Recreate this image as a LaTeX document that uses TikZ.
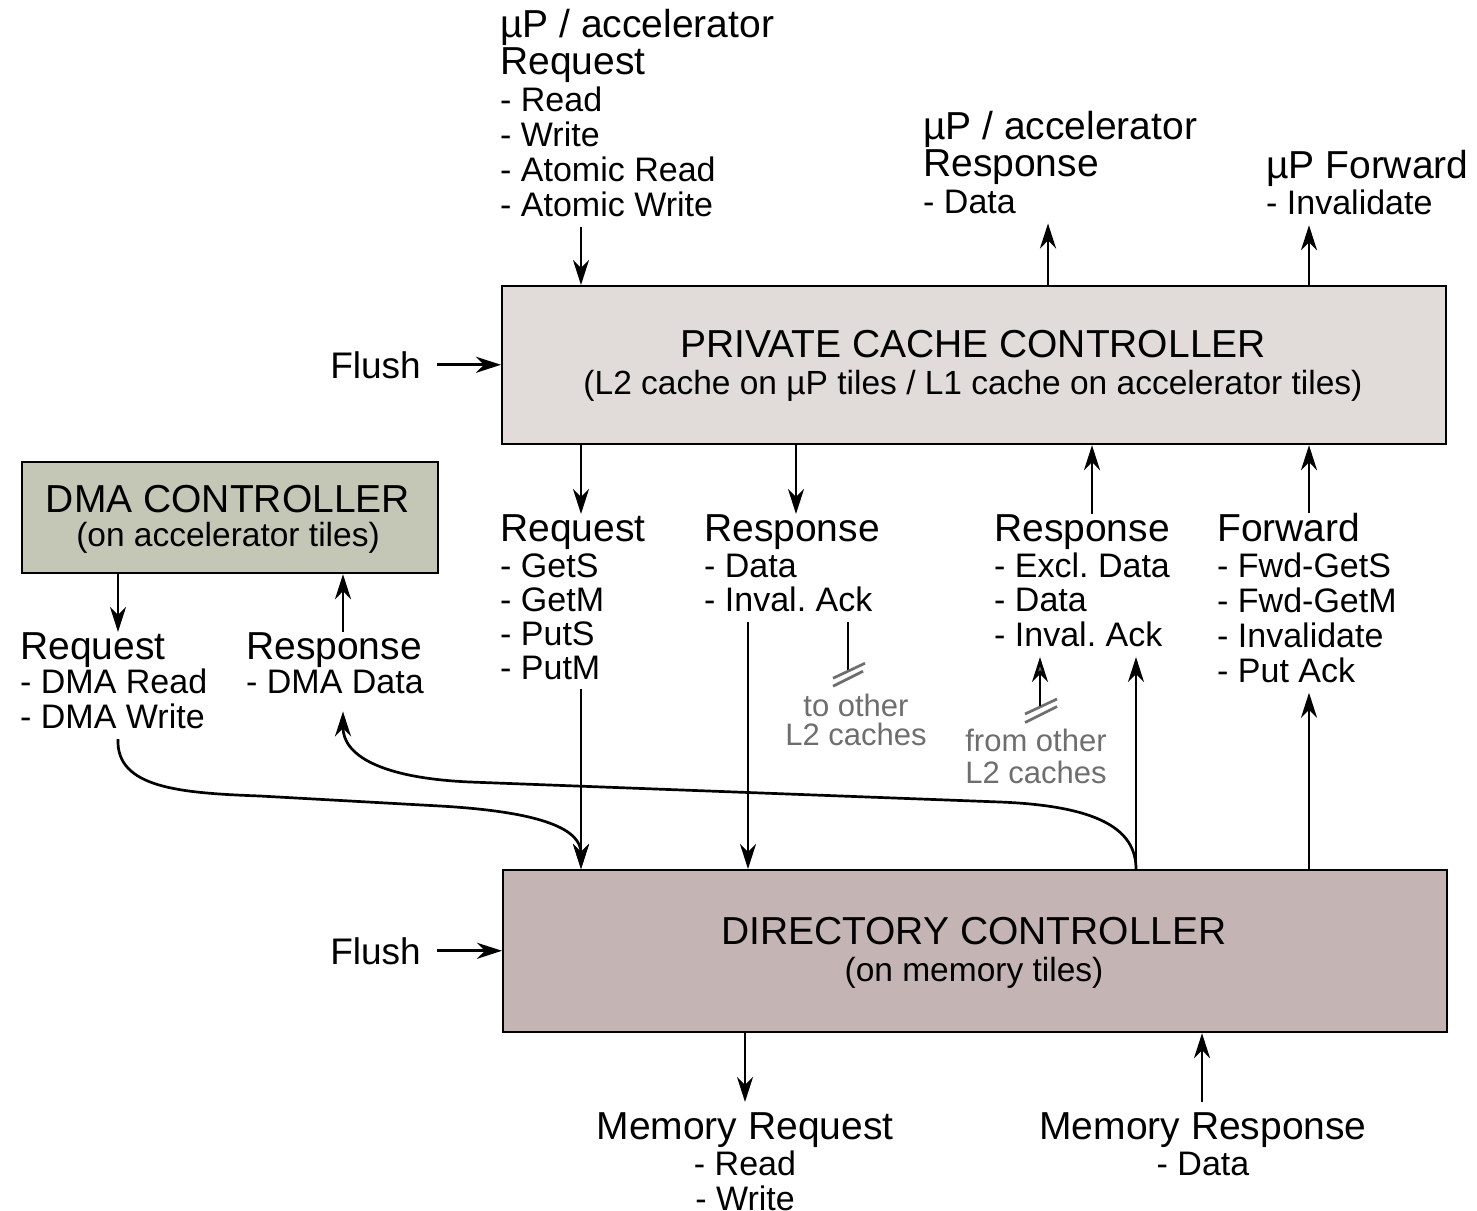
\documentclass[tikz,border=0pt]{standalone}
\usepackage{fontspec}
\setmainfont{Liberation Sans}
\usetikzlibrary{arrows.meta,calc}

\definecolor{privfill}{RGB}{225,220,217}
\definecolor{dmafill}{RGB}{196,199,181}
\definecolor{dirfill}{RGB}{196,180,180}
\definecolor{graytext}{RGB}{110,110,110}

% font sizes (1 unit = 1pt)
\newcommand\bigf{\fontsize{39}{39}\selectfont}
\newcommand\lstf{\fontsize{34}{34}\selectfont}
\newcommand\subf{\fontsize{33.5}{34}\selectfont}
\newcommand\flf{\fontsize{37}{37}\selectfont}
\newcommand\grayf{\fontsize{31}{28}\selectfont}
\newcommand\hd[1]{{\bigf #1}}
% stacked lines whose baseline is the first line
\newcommand\stk[2][l]{\begin{tabular}[t]{@{}#1@{}}#2\end{tabular}}

\tikzset{
  box/.style={draw=black, line width=2.2pt, inner sep=0pt, anchor=north west},
  ttl/.style={inner sep=0pt, anchor=base, font=\bigf},
  sub/.style={inner sep=0pt, anchor=base, font=\subf},
  lbl/.style={inner sep=0pt, anchor=base west, font=\lstf},
  clbl/.style={inner sep=0pt, anchor=base, font=\lstf},
  glbl/.style={inner sep=0pt, anchor=base, font=\grayf, text=graytext},
  arr/.style={line width=2.7pt, -{Stealth[length=25pt,width=16pt,inset=8pt]}},
  garr/.style={line width=2.7pt, -{Stealth[length=25pt,width=16pt,inset=8pt,fill=graytext]}},
  wire/.style={line width=2.7pt},
  hatch/.style={draw=graytext, line width=2.7pt},
}

\begin{document}
\begin{tikzpicture}[x=1pt, y=-1pt]
\useasboundingbox (0,0) rectangle (1477,1210);

% ---- controllers ----
\node[box, fill=privfill, minimum width=944pt, minimum height=158pt] (priv) at (501,285) {};
\node[box, fill=dmafill,  minimum width=416pt, minimum height=111pt] (dma)  at (21,461) {};
\node[box, fill=dirfill,  minimum width=944pt, minimum height=162pt] (dir)  at (502,869) {};

\node[ttl] (privT) at (973,357) {PRIVATE CACHE CONTROLLER};
\node[sub] (privS) at (973,394) {(L2 cache on µP tiles / L1 cache on accelerator tiles)};
\node[ttl] (dmaT) at (228,512) {DMA CONTROLLER};
\node[sub] (dmaS) at (228,546) {(on accelerator tiles)};
\node[ttl] (dirT) at (974,944) {DIRECTORY CONTROLLER};
\node[sub] (dirS) at (974,981) {(on memory tiles)};

% ---- message labels ----
\node[lbl] (lupreq) at (500,37)
  {\stk{\hd{µP / accelerator}\\\hd{Request}\\[3pt]- Read\\- Write\\- Atomic Read\\- Atomic Write}};
\node[lbl] (lupresp) at (923,139)
  {\stk{\hd{µP / accelerator}\\\hd{Response}\\[3pt]- Data}};
\node[lbl] (lupfwd) at (1266,178)
  {\stk{\hd{µP Forward}\\[2pt]- Invalidate}};

\node[lbl] (lreq) at (500,541)
  {\stk{\hd{Request}\\[2pt]- GetS\\- GetM\\- PutS\\- PutM}};
\node[lbl] (lresp) at (704,541)
  {\stk{\hd{Response}\\[2pt]- Data\\- Inval.\ Ack}};
\node[lbl] (lresp2) at (994,541)
  {\stk{\hd{Response}\\[2pt]- Excl.\ Data\\- Data\\- Inval.\ Ack}};
\node[lbl] (lfwd) at (1217,541)
  {\stk{\hd{Forward}\\[2pt]- Fwd-GetS\\- Fwd-GetM\\- Invalidate\\- Put Ack}};

\node[lbl] (ldreq) at (20,659)
  {\stk{\hd{Request}\\- DMA Read\\- DMA Write}};
\node[lbl] (ldresp) at (246,659)
  {\stk{\hd{Response}\\- DMA Data}};

\node[clbl] (lmreq) at (745,1139)
  {\stk[c]{\hd{Memory Request}\\[2pt]- Read\\- Write}};
\node[clbl] (lmresp) at (1203,1139)
  {\stk[c]{\hd{Memory Response}\\[2pt]- Data}};

\node[glbl] (lto) at (856,716) {\stk[c]{to other\\[-1pt]L2 caches}};
\node[glbl] (lfrom) at (1036,751) {\stk[c]{from other\\[2pt]L2 caches}};

\node[inner sep=0pt, anchor=base east, font=\flf] (fl1) at (421,378) {Flush};
\node[inner sep=0pt, anchor=base east, font=\flf] (fl2) at (421,964) {Flush};

% ---- ports on the controller edges ----
\path (priv.north west) ++(80,0)  coordinate (pN1)
      (priv.north west) ++(547,0) coordinate (pN2)
      (priv.north west) ++(808,0) coordinate (pN3);
\path (priv.south west) ++(80,0)  coordinate (pS1)
      (priv.south west) ++(295,0) coordinate (pS2)
      (priv.south west) ++(591,0) coordinate (pS3)
      (priv.south west) ++(808,0) coordinate (pS4);
\path (dma.south west) ++(97,0)  coordinate (mS1)
      (dma.south west) ++(322,0) coordinate (mS2);
\path (dir.north west) ++(79,0)  coordinate (dN1)
      (dir.north west) ++(246,0) coordinate (dN2)
      (dir.north west) ++(634,0) coordinate (dN3)
      (dir.north west) ++(807,0) coordinate (dN4);
\path (dir.south west) ++(243,0) coordinate (dS1)
      (dir.south west) ++(700,0) coordinate (dS2);
\path (lresp.south west) ++(144,0) coordinate (ackA);
\coordinate (fromA) at (1040,706);

% ---- processor side ----
\draw[arr] (lupreq.south -| pN1) -- (pN1);
\draw[arr] (pN2) -- (lupresp.south -| pN2);
\draw[arr] (pN3) -- (lupfwd.south -| pN3);
\draw[arr] ([xshift=16pt]fl1.east) -- (fl1.east -| priv.west);
\draw[arr] ([xshift=16pt]fl2.east) -- (fl2.east -| dir.west);

% ---- private cache <-> network ----
\draw[arr] (pS1) -- (lreq.north -| pS1);
\draw[arr] (pS2) -- (lresp.north -| pS2);
\draw[arr] (lresp2.north -| pS3) -- (pS3);
\draw[arr] (lfwd.north -| pS4) -- (pS4);

% ---- network <-> directory ----
\draw[arr] (lreq.south -| dN1) -- (dN1);
\draw[arr] (lresp.south -| dN2) -- (dN2);
\draw[arr] (dN3) -- (lresp2.south -| dN3);
\draw[arr] (dN4) -- (lfwd.south -| dN4);

% invalidation acks to / from the other caches
\draw[wire] (ackA) -- ++(0,49) coordinate (ackB);
\draw[hatch] ($(ackB)+(-15,7)$) -- ++(32,-15);
\draw[hatch] ($(ackB)+(-15,15)$) -- ++(30,-15);
\draw[hatch] ($(fromA)+(-15,8)$) -- ++(32,-15);
\draw[hatch] ($(fromA)+(-15,16.5)$) -- ++(32,-16);
\draw[garr] (fromA) -- (lresp2.south -| fromA);

% ---- DMA ----
\draw[arr] (mS1) -- (ldreq.north -| mS1);
\draw[arr] (ldresp.north -| mS2) -- (mS2);
\draw[arr] (ldreq.south -| mS1)
  .. controls (116,788) and (180,793) .. (260,796) -- (440,806)
  .. controls (545,812) and (581,830) .. (dN1);
\draw[arr] (dN3)
  .. controls (1136,830) and (1100,806) .. (1000,802) -- (470,782)
  .. controls (380,778) and (343,755) .. ([yshift=-8pt]ldresp.south -| mS2);

% ---- memory ----
\draw[arr] (dS1) -- ([yshift=10pt]lmreq.north -| dS1);
\draw[arr] ([yshift=10pt]lmresp.north -| dS2) -- (dS2);
\end{tikzpicture}
\end{document}
